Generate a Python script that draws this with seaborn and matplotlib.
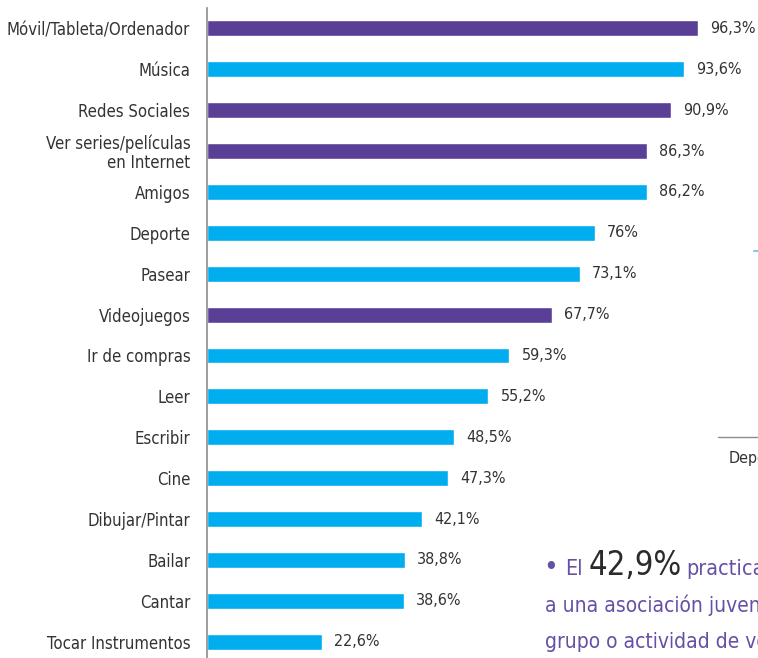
import matplotlib
matplotlib.use("Agg")
import matplotlib.pyplot as plt
import seaborn as sns
import pandas as pd

categories = [
    "Móvil/Tableta/Ordenador", "Música", "Redes Sociales",
    "Ver series/películas\nen Internet", "Amigos", "Deporte", "Pasear",
    "Videojuegos", "Ir de compras", "Leer", "Escribir", "Cine",
    "Dibujar/Pintar", "Bailar", "Cantar", "Tocar Instrumentos",
]
values = [96.3, 93.6, 90.9, 86.3, 86.2, 76, 73.1, 67.7, 59.3, 55.2,
          48.5, 47.3, 42.1, 38.8, 38.6, 22.6]
labels = ["96,3%", "93,6%", "90,9%", "86,3%", "86,2%", "76%", "73,1%",
          "67,7%", "59,3%", "55,2%", "48,5%", "47,3%", "42,1%", "38,8%",
          "38,6%", "22,6%"]
groups = ["digital", "otro", "digital", "digital", "otro", "otro", "otro",
          "digital", "otro", "otro", "otro", "otro", "otro", "otro",
          "otro", "otro"]

PURPLE = "#5a3f97"
CYAN = "#00adee"
TEXT = "#333333"

df = pd.DataFrame({"cat": categories, "val": values, "grp": groups})

sns.set_style("white")
plt.rcParams["font.family"] = ["DejaVu Sans"]
plt.rcParams["font.stretch"] = "condensed"

fig = plt.figure(figsize=(7.58, 6.58), dpi=100)
ax = fig.add_axes([207 / 758, 0, 551 / 758, 650 / 658])

sns.barplot(data=df, x="val", y="cat", hue="grp", dodge=False,
            palette={"digital": PURPLE, "otro": CYAN}, width=0.39,
            saturation=1, legend=False, ax=ax, orient="h")

for i, (v, lab) in enumerate(zip(values, labels)):
    ax.text(v + 2.4, i, lab, va="center", ha="left", fontsize=11.5,
            color=TEXT)

ax.set_xlim(0, 108.06)
ax.set_ylim(15.4, -0.5)
ax.set_xlabel("")
ax.set_ylabel("")
ax.set_xticks([])
for s in ["top", "right", "bottom"]:
    ax.spines[s].set_visible(False)
ax.spines["left"].set_color("#8c8c8c")
ax.spines["left"].set_linewidth(1.2)
ax.tick_params(axis="y", length=0, pad=12, labelsize=12, labelcolor=TEXT)
for t in ax.get_yticklabels():
    t.set_linespacing(1.08)

# fragments of the surrounding infographic, cut by the right edge
fig.add_artist(plt.Line2D([718 / 758, 1.0], [1 - 437 / 658] * 2,
                          color="#8c8c8c", linewidth=1))
fig.text(729 / 758, 1 - 458 / 658, "Deporte", fontsize=11.5, color=TEXT,
         va="center", ha="left")
fig.add_artist(plt.Line2D([754 / 758, 758 / 758], [1 - 251 / 658] * 2,
                          color="#8fc3ea", linewidth=1.5))

LILAC = "#6650a6"
fig.text(543 / 758, 1 - 575 / 658, "•", fontsize=20, color=LILAC,
         va="baseline", ha="left")
fig.text(565 / 758, 1 - 575 / 658, "El", fontsize=15.5, color=LILAC,
         va="baseline", ha="left")
fig.text(589 / 758, 1 - 575 / 658, "42,9%", fontsize=23.5, color="#2b2b2b",
         va="baseline", ha="left")
fig.text(686 / 758, 1 - 575 / 658, "practica", fontsize=15.5, color=LILAC,
         va="baseline", ha="left")
fig.text(545 / 758, 1 - 612 / 658, "a una asociación juvenil", fontsize=15,
         color=LILAC, va="baseline", ha="left")
fig.text(545 / 758, 1 - 648 / 658, "grupo o actividad de voluntariado",
         fontsize=15, color=LILAC, va="baseline", ha="left")

fig.savefig("out.png", dpi=100)
